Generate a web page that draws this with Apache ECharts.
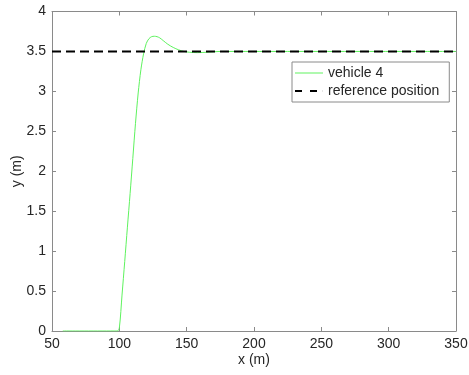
<!DOCTYPE html>
<html>
<head>
<meta charset="utf-8">
<script src="https://cdn.jsdelivr.net/npm/echarts@6/dist/echarts.min.js"></script>
<style>
  html, body { margin: 0; padding: 0; background: #fff; }
  #chart { width: 469px; height: 375px; }
</style>
</head>
<body>
<div id="chart"></div>
<script>
// vehicle 4 lateral position vs longitudinal position
var vehX = [58, 98.5, 100, 102, 104, 106, 108, 110, 112, 114, 116, 118, 120, 122, 124, 126, 128, 130, 133, 136, 140, 144, 148, 152, 158, 165, 175, 200, 350];
var vehY = [0, 0, 0.04, 0.45, 0.87, 1.3, 1.72, 2.16, 2.6, 2.98, 3.27, 3.47, 3.6, 3.66, 3.685, 3.69, 3.685, 3.67, 3.63, 3.59, 3.55, 3.52, 3.5, 3.49, 3.485, 3.49, 3.5, 3.5, 3.5];

var refX = [50, 350];
var refY = [3.5, 3.5];

var xTicks = [50, 350, 50];   // min, max, interval
var yTicks = [0, 4, 0.5];

var font = 'Liberation Sans, Arial, Helvetica, sans-serif';
var axisGray = '#8a8a8a';
var textColor = '#262626';

function pairs(xs, ys) {
  return xs.map(function (x, i) { return [x, ys[i]]; });
}

var chart = echarts.init(document.getElementById('chart'));

var xBase = {
  type: 'value',
  min: xTicks[0], max: xTicks[1], interval: xTicks[2],
  axisLine: { show: true, onZero: false, lineStyle: { color: axisGray, width: 1 } },
  axisTick: { show: true, inside: true, length: 4, lineStyle: { color: axisGray } },
  splitLine: { show: false }
};
var yBase = {
  type: 'value',
  min: yTicks[0], max: yTicks[1], interval: yTicks[2],
  axisLine: { show: true, onZero: false, lineStyle: { color: axisGray, width: 1 } },
  axisTick: { show: true, inside: true, length: 4, lineStyle: { color: axisGray } },
  splitLine: { show: false }
};

chart.setOption({
  animation: false,
  backgroundColor: '#fff',
  textStyle: { fontFamily: font },
  grid: { left: 52, right: 13, top: 11.5, bottom: 44, containLabel: false, outerBoundsMode: 'none' },
  legend: {
    left: 292, top: 62,
    orient: 'vertical',
    backgroundColor: '#fff',
    borderColor: '#8a8a8a', borderWidth: 1, borderRadius: 0,
    padding: [4, 10, 4, 3],
    itemGap: 4,
    itemWidth: 28, itemHeight: 14,
    textStyle: { fontFamily: font, fontSize: 14, color: textColor },
    data: [
      { name: 'vehicle 4', icon: 'path://M0,0L28,0L28,1L0,1Z', itemStyle: { color: '#5ef25e' } },
      { name: 'reference position', icon: 'path://M0,0L7,0L7,2L0,2ZM15,0L22,0L22,2L15,2ZM27.9,0L28,0L28,2L27.9,2Z', itemStyle: { color: '#000' } }
    ]
  },
  xAxis: [
    Object.assign({}, xBase, {
      position: 'bottom',
      name: 'x (m)', nameLocation: 'middle', nameGap: 22, nameMoveOverlap: false,
      nameTextStyle: { fontFamily: font, fontSize: 14, color: textColor },
      axisLabel: { fontFamily: font, fontSize: 14, color: textColor, margin: 6 }
    }),
    Object.assign({}, xBase, { position: 'top', axisLabel: { show: false } })
  ],
  yAxis: [
    Object.assign({}, yBase, {
      position: 'left',
      name: 'y (m)', nameLocation: 'middle', nameGap: 28, nameMoveOverlap: false,
      nameTextStyle: { fontFamily: font, fontSize: 14, color: textColor },
      axisLabel: { fontFamily: font, fontSize: 14, color: textColor, margin: 6 }
    }),
    Object.assign({}, yBase, { position: 'right', axisLabel: { show: false } })
  ],
  series: [
    {
      name: 'vehicle 4',
      type: 'line',
      data: pairs(vehX, vehY),
      smooth: 0.3,
      showSymbol: false,
      symbol: 'none',
      lineStyle: { color: '#5ef25e', width: 1 },
      itemStyle: { color: '#5ef25e' },
      z: 2
    },
    {
      name: 'reference position',
      type: 'line',
      data: pairs(refX, refY),
      showSymbol: false,
      symbol: 'none',
      lineStyle: { color: '#000', width: 2, type: [9, 5] },
      itemStyle: { color: '#000' },
      z: 3
    }
  ]
});
</script>
</body>
</html>
